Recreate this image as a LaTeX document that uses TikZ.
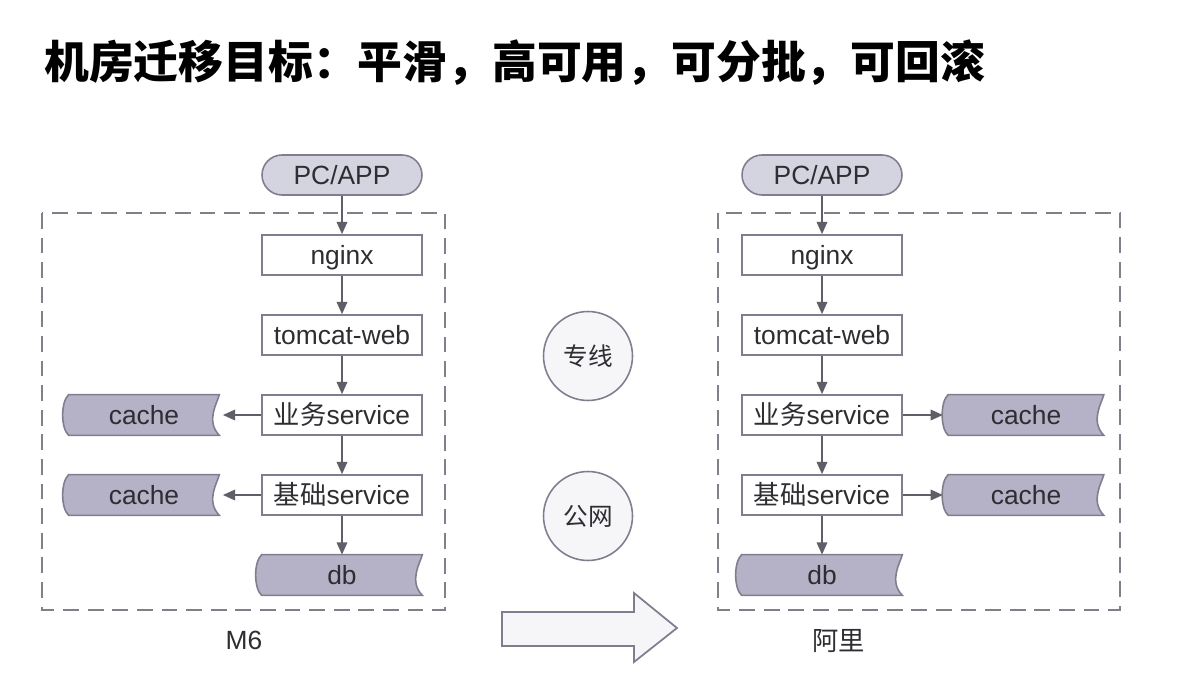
\documentclass[tikz,border=0pt]{standalone}
\usepackage{fontspec}
\setmainfont{Liberation Sans}
\newfontfamily\cjk{Noto Sans CJK SC}
\usetikzlibrary{arrows.meta}
\usetikzlibrary{backgrounds}
\usetikzlibrary{calc}
\definecolor{contour}{RGB}{128,126,142}
\definecolor{tirets}{RGB}{128,128,138}
\definecolor{mauve}{RGB}{181,177,198}
\definecolor{pilule}{RGB}{212,212,224}
\definecolor{encre}{RGB}{45,45,50}
\definecolor{fleche}{RGB}{95,95,105}
\definecolor{rond}{RGB}{246,246,249}

\begin{document}
\begin{tikzpicture}[x=0.02cm, y=-0.02cm, text=encre, font=\fontsize{15}{18}\selectfont,
	internal/.style={draw=contour, fill=white, line width=0.9pt, minimum width=3.2cm, minimum height=0.8cm, inner sep=0pt, text height=11pt, text depth=0pt},
	client/.style={internal, fill=pilule, rounded corners=0.4cm},
	store/.style={minimum width=3.2cm, minimum height=0.8cm, inner sep=0pt, text height=11pt, text depth=0pt},
	storeline/.style={draw=contour, fill=mauve, line width=0.9pt},
	link/.style={draw=fleche, line width=1pt, -{Triangle[length=7pt, width=6pt]}},
	room/.style={draw=tirets, line width=1.1pt, dash pattern=on 9pt off 5pt},
	line/.style={circle, draw=contour, fill=rond, line width=0.9pt, minimum size=1.78cm, inner sep=0pt, font=\cjk\fontsize{14}{16}\selectfont}]
		\useasboundingbox (0,0) rectangle (1201,675);
		\node[anchor=west, text=black, font=\cjk\bfseries\fontsize{25.5}{30}\selectfont](title) at (38,63) {机房迁移目标：平滑，高可用，可分批，可回滚};
		
		% M6
		\draw[room] (42,213) rectangle (445,610);
		\node[client](node0) at (342,175) {PC/APP};
		\node[internal](node1) at (342,255) {nginx};
		\node[internal](node2) at (342,335) {tomcat-web};
		\node[internal](node3) at (342,415) {{\cjk 业务}service};
		\node[internal](node4) at (342,495) {{\cjk 基础}service};
		\node[store](node5) at (342,575) {db};
		\node[store, minimum width=3.0cm](node6) at (144,415) {cache};
		\node[store, minimum width=3.0cm](node7) at (144,495) {cache};
		
		\draw[link] (node0) -- (node1);
		\draw[link] (node1) -- (node2);
		\draw[link] (node2) -- (node3);
		\draw[link] (node3) -- (node4);
		\draw[link] (node4) -- (node5);
		\draw[link] (node3) -- ([xshift=2pt]node6.east);
		\draw[link] (node4) -- ([xshift=2pt]node7.east);
		\node[font=\fontsize{15}{18}\selectfont](label0) at (244,640) {M6};
		
		% cloud
		\draw[room] (718,213) rectangle (1120,610);
		\node[client](node8) at (822,175) {PC/APP};
		\node[internal](node9) at (822,255) {nginx};
		\node[internal](node10) at (822,335) {tomcat-web};
		\node[internal](node11) at (822,415) {{\cjk 业务}service};
		\node[internal](node12) at (822,495) {{\cjk 基础}service};
		\node[store](node13) at (822,575) {db};
		\node[store, minimum width=3.1cm](node14) at (1026,415) {cache};
		\node[store, minimum width=3.1cm](node15) at (1026,495) {cache};
		
		\draw[link] (node8) -- (node9);
		\draw[link] (node9) -- (node10);
		\draw[link] (node10) -- (node11);
		\draw[link] (node11) -- (node12);
		\draw[link] (node12) -- (node13);
		\draw[link] (node11) -- ([xshift=-3pt]node14.west);
		\draw[link] (node12) -- ([xshift=-3pt]node15.west);
		\node[anchor=west, font=\cjk\fontsize{15}{18}\selectfont](label1) at (806,641) {阿里};
		
		\node[line](line0) at (588,356) {专线};
		\node[line](line1) at (588,516) {公网};
		\draw[draw=contour, fill=rond, line width=1pt] (502,612) -- (634,612) -- (634,593) -- (677,628) -- (634,662) -- (634,646) -- (502,646) -- cycle;
		
		\begin{scope}[on background layer]
		\foreach \s in {node5, node6, node7, node13, node14, node15}
			\draw[storeline] (\s.north west) .. controls +(-8,7) and +(-8,-7) .. (\s.south west) -- (\s.south east) .. controls ($(\s.east)+(-14,6)$) and ($(\s.north east)+(-2,8)$) .. (\s.north east) -- cycle;
		\end{scope}
		\end{tikzpicture}
\end{document}
